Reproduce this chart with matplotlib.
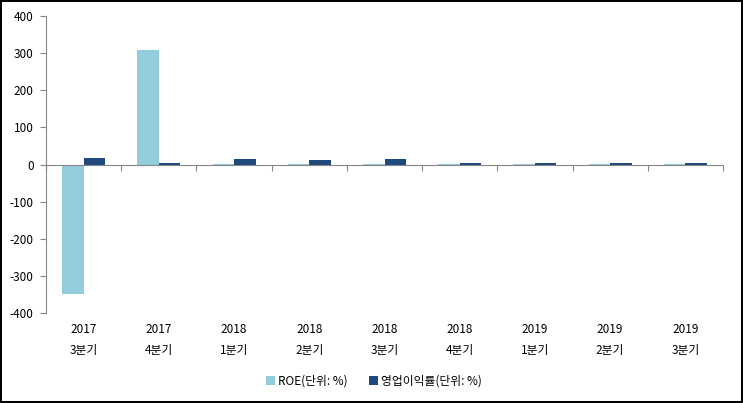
import numpy as np
import matplotlib
matplotlib.use("Agg")
import matplotlib.pyplot as plt

plt.rcParams['font.family'] = ['Noto Sans CJK KR', 'DejaVu Sans']
plt.rcParams['axes.unicode_minus'] = False

years = ["2017", "2017", "2018", "2018", "2018", "2018", "2019", "2019", "2019"]
quarters = ["3분기", "4분기", "1분기", "2분기", "3분기", "4분기", "1분기", "2분기", "3분기"]
roe = [-349, 309, 2.5, 2.5, 2.5, 2.5, 2.5, 2.5, 2.5]
op_margin = [17, 4, 14, 11, 14, 3, 3, 3, 3]

roe_color = "#93CDDD"
op_color = "#1F497D"
axis_color = "#868686"

fig = plt.figure(figsize=(7.43, 4.03), dpi=100)
fig.patch.set_edgecolor("black")
fig.patch.set_linewidth(1.5)
ax = fig.add_axes([0.062, 0.2233, 0.911, 0.737])

x = np.arange(len(years))
w = 1 / 3.5
ax.bar(x - w / 2, roe, w, color=roe_color, label="ROE(단위: %)")
ax.bar(x + w / 2, op_margin, w, color=op_color, label="영업이익률(단위: %)")

ax.set_xlim(-0.5, len(years) - 0.5)
ax.set_ylim(-400, 400)
ax.set_yticks(range(-400, 401, 100))
ax.tick_params(axis="y", direction="out", length=4, color=axis_color,
               labelsize=8.5, pad=5)

for side in ["top", "right"]:
    ax.spines[side].set_visible(False)
ax.spines["left"].set_color(axis_color)
ax.spines["bottom"].set_color(axis_color)
ax.spines["bottom"].set_position(("data", 0))

ax.set_xticks(np.arange(-0.5, len(years), 1.0))
ax.set_xticklabels([])
ax.tick_params(axis="x", direction="out", length=4, color=axis_color)

sec = ax.secondary_xaxis("bottom")
sec.set_xticks(x)
sec.set_xticklabels([f"{y}\n{q}" for y, q in zip(years, quarters)],
                    linespacing=1.8, fontsize=8.5)
sec.tick_params(length=0, pad=7)
sec.spines["bottom"].set_visible(False)

fig.legend(loc="center", bbox_to_anchor=(0.503, 0.054), ncol=2, frameon=False,
           fontsize=8.5, handlelength=0.8, handleheight=0.8, handletextpad=0.2,
           columnspacing=1.8)

fig.savefig("out.png", dpi=100)
